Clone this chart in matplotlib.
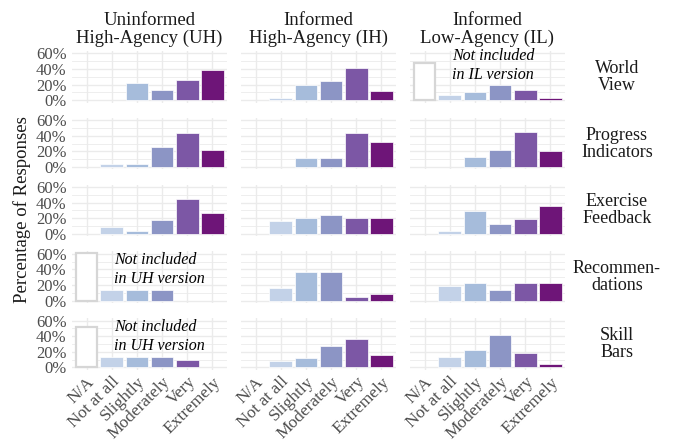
import matplotlib
matplotlib.use("Agg")
import matplotlib.pyplot as plt
from matplotlib.ticker import FixedLocator

plt.rcParams['font.family'] = ['Liberation Serif', 'DejaVu Serif']

categories = ["N/A", "Not at all", "Slightly", "Moderately", "Very", "Extremely"]
conditions = ["Uninformed\nHigh-Agency (UH)", "Informed\nHigh-Agency (IH)", "Informed\nLow-Agency (IL)"]
features = ["World\nView", "Progress\nIndicators", "Exercise\nFeedback", "Recommen-\ndations", "Skill\nBars"]

# percentages per feature row: [N/A, Not at all, Slightly, Moderately, Very, Extremely]
uh_values = [
    [0, 0, 22, 13, 26, 39],
    [0, 4, 4, 26, 44, 22],
    [0, 9, 4, 17, 44, 26],
    [61, 13, 13, 13, 0, 0],
    [52, 13, 13, 13, 9, 0],
]
ih_values = [
    [0, 3, 20, 24, 41, 12],
    [0, 0, 12, 12, 44, 32],
    [0, 16, 20, 24, 20, 20],
    [0, 16, 36, 36, 4, 8],
    [0, 8, 12, 28, 36, 16],
]
il_values = [
    [48, 6, 10, 20, 13, 3],
    [0, 0, 13, 22, 45, 20],
    [0, 3, 29, 13, 19, 36],
    [0, 19, 23, 13, 23, 22],
    [0, 13, 22, 42, 19, 4],
]
# panels where N/A bar means "not included" (col, row, note, y position of note)
not_included = [(0, 3, "Not included\nin UH version", 40),
                (0, 4, "Not included\nin UH version", 40),
                (2, 0, "Not included\nin IL version", 44)]

colors = ["#ffffff", "#c3d2e8", "#a6bcdb", "#8c95c5", "#7c57a5", "#6e1578"]

all_values = [uh_values, ih_values, il_values]

W, H = 680, 445
fig = plt.figure(figsize=(W / 100, H / 100), dpi=100)

col_left = [72, 241, 410]
pw = 155
row_top0 = 51
pitch = 66.8
ph = 51.5

na_set = {(c, r) for c, r, _, _ in not_included}
x = list(range(len(categories)))

for c in range(3):
    for r in range(5):
        top = row_top0 + pitch * r
        ax = fig.add_axes([col_left[c] / W, 1 - (top + ph) / H, pw / W, ph / H])
        vals = all_values[c][r]
        for i, v in enumerate(vals):
            if i == 0:
                if (c, r) in na_set:
                    ax.bar(i, v, width=0.82, color="white", edgecolor="#d6d6d6",
                           linewidth=1.6, zorder=3)
                continue
            if v > 0:
                ax.bar(i, v, width=0.9, color=colors[i], edgecolor="white",
                       linewidth=0.5, zorder=3)
        ax.set_xlim(-0.58, 5.58)
        ax.set_ylim(-3, 63)
        ax.yaxis.set_major_locator(FixedLocator([0, 20, 40, 60]))
        ax.yaxis.set_minor_locator(FixedLocator([10, 30, 50]))
        ax.set_xticks(x)
        ax.grid(True, which="major", color="#ebebeb", linewidth=1.0, zorder=0)
        ax.grid(True, which="minor", axis="y", color="#ebebeb", linewidth=0.6, zorder=0)
        for s in ax.spines.values():
            s.set_visible(False)
        ax.tick_params(length=0, which="both")
        if c == 0:
            ax.set_yticklabels(["0%", "20%", "40%", "60%"], fontsize=12, color="#4d4d4d")
            ax.tick_params(axis="y", pad=4)
        else:
            ax.set_yticklabels([])
        if r == 4:
            ax.set_xticklabels(categories, rotation=45, ha="right", va="top",
                               rotation_mode="anchor", fontsize=12.5, color="#4d4d4d")
            ax.tick_params(axis="x", pad=3)
        else:
            ax.set_xticklabels([])
        for cc, rr, note, ny in not_included:
            if cc == c and rr == r:
                ax.text(1.1, ny, note, style="italic", fontsize=11.5, ha="left",
                        va="center", color="black", linespacing=1.25, zorder=4)
        if r == 0:
            ax.text(0.5, 1.08, conditions[c], transform=ax.transAxes, ha="center",
                    va="bottom", fontsize=13.5, color="#1a1a1a", linespacing=1.08)
        if c == 2:
            fig.text(617 / W, 1 - (top + ph / 2) / H, features[r], ha="center",
                     va="center", fontsize=13, color="#1a1a1a", linespacing=1.0)

fig.text(22 / W, 1 - 210 / H, "Percentage of Responses", rotation=90, ha="center",
         va="center", fontsize=13.5, color="#1a1a1a")

fig.savefig("out.png", dpi=100)
